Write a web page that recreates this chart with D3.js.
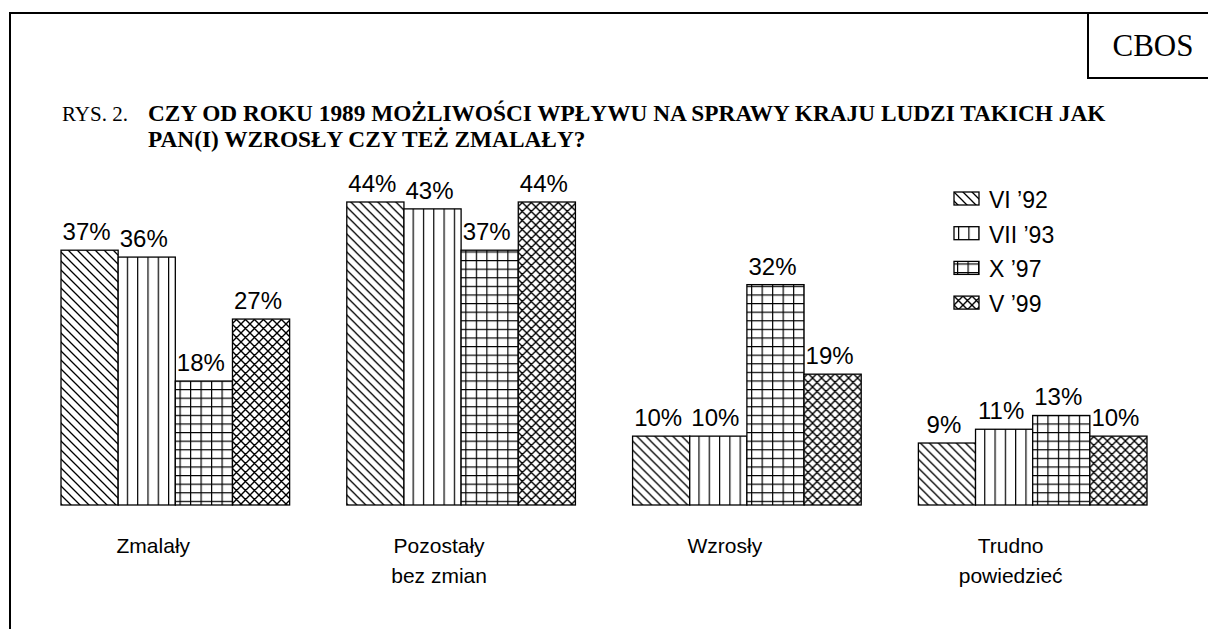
<!DOCTYPE html>
<html><head><meta charset="utf-8">
<script src="https://cdn.jsdelivr.net/npm/d3@7"></script>
<style>
html,body{margin:0;padding:0;background:#fff;overflow:hidden;}
svg{display:block;}
</style></head>
<body>
<svg id="chart" width="1208" height="629"></svg>
<script>
const categories = [["Zmalały"], ["Pozostały", "bez zmian"], ["Wzrosły"], ["Trudno", "powiedzieć"]];
const seriesNames = ["VI \u201992", "VII \u201993", "X \u201997", "V \u201999"];
const vi92  = [37, 44, 10, 9];
const vii93 = [36, 43, 10, 11];
const x97   = [18, 37, 32, 13];
const v99   = [27, 44, 19, 10];
const seriesValues = [vi92, vii93, x97, v99];
const titleLines = ["CZY OD ROKU 1989 MOŻLIWOŚCI WPŁYWU NA SPRAWY KRAJU LUDZI TAKICH JAK", "PAN(I) WZROSŁY CZY TEŻ ZMALAŁY?"];

const svg = d3.select("#chart");
const defs = svg.append("defs");
const patIds = ["p0", "p1", "p2", "p3"];

// pattern 0: diagonal "\" lines
{
  const p = defs.append("pattern").attr("id", "p0").attr("patternUnits", "userSpaceOnUse")
    .attr("width", 9).attr("height", 9);
  p.append("rect").attr("width", 9).attr("height", 9).attr("fill", "#fff");
  p.append("path").attr("d", "M-1,-1 L10,10 M-5,4 L5,14 M4,-5 L14,5")
    .attr("stroke", "#000").attr("stroke-width", 1.3);
}
// pattern 1: vertical lines
{
  const p = defs.append("pattern").attr("id", "p1").attr("patternUnits", "userSpaceOnUse")
    .attr("width", 10.3).attr("height", 10).attr("x", 4);
  p.append("rect").attr("width", 10.3).attr("height", 10).attr("fill", "#fff");
  p.append("path").attr("d", "M0.6,0 V10").attr("stroke", "#000").attr("stroke-width", 1.2);
}
// pattern 2: grid
{
  const p = defs.append("pattern").attr("id", "p2").attr("patternUnits", "userSpaceOnUse")
    .attr("width", 10.5).attr("height", 8.6).attr("x", 3).attr("y", 2);
  p.append("rect").attr("width", 10.5).attr("height", 8.6).attr("fill", "#fff");
  p.append("path").attr("d", "M0.6,0 V8.6 M0,0.6 H10.5").attr("stroke", "#000").attr("stroke-width", 1.2);
}
// pattern 3: diagonal crosshatch
{
  const p = defs.append("pattern").attr("id", "p3").attr("patternUnits", "userSpaceOnUse")
    .attr("width", 9).attr("height", 9);
  p.append("rect").attr("width", 9).attr("height", 9).attr("fill", "#fff");
  p.append("path").attr("d", "M-1,-1 L10,10 M-5,4 L5,14 M4,-5 L14,5 M-1,10 L10,-1 M-5,5 L5,-5 M4,14 L14,4")
    .attr("stroke", "#000").attr("stroke-width", 1.4);
}

// frame
svg.append("path").attr("d", "M10,629 V13 H1210").attr("fill", "none").attr("stroke", "#000").attr("stroke-width", 2);
svg.append("path").attr("d", "M1088,13 V78 H1210").attr("fill", "none").attr("stroke", "#000").attr("stroke-width", 2);
svg.append("text").attr("x", 1153).attr("y", 56).attr("text-anchor", "middle")
  .attr("font-family", "Liberation Serif, Times New Roman, serif").attr("font-size", 31).text("CBOS");

// title
svg.append("text").attr("x", 62).attr("y", 121)
  .attr("font-family", "Liberation Serif, Times New Roman, serif").attr("font-size", 21).text("RYS. 2.");
const titleTexts = titleLines.map((t, i) => svg.append("text").attr("x", 148).attr("y", 121 + i * 26)
    .attr("font-family", "Liberation Serif, Times New Roman, serif").attr("font-weight", "bold")
    .attr("font-size", 20).text(t));
// size the title so its first line spans to the right margin (x = 1106)
const w0 = titleTexts[0].node().getComputedTextLength();
const titleSize = 20 * (1106 - 148) / w0;
titleTexts.forEach(t => t.attr("font-size", titleSize));

// scales
const x0 = d3.scaleBand().domain(d3.range(categories.length)).range([61, 1147]).paddingInner(0.2).paddingOuter(0);
const x1 = d3.scaleBand().domain(d3.range(seriesNames.length)).range([0, x0.bandwidth()]).padding(0);
const y = d3.scaleLinear().domain([0, 44]).range([505, 202]);

const groups = svg.append("g").selectAll("g").data(categories).join("g")
  .attr("transform", (d, i) => `translate(${x0(i)},0)`);

groups.each(function(c, ci) {
  const g = d3.select(this);
  seriesValues.forEach((vals, si) => {
    const v = vals[ci];
    g.append("rect").attr("x", x1(si)).attr("y", y(v)).attr("width", x1.bandwidth()).attr("height", y(0) - y(v))
      .attr("fill", `url(#${patIds[si]})`).attr("stroke", "#000").attr("stroke-width", 1.3);
    g.append("text").attr("x", x1(si) + x1.bandwidth() / 2 - 3).attr("y", y(v) - 10)
      .attr("text-anchor", "middle").attr("font-family", "Liberation Sans, Arial, sans-serif")
      .attr("font-size", 24).text(v + "%");
  });
  c.forEach((line, li) => {
    g.append("text").attr("x", x0.bandwidth() / 2 - 22).attr("y", 553 + li * 30)
      .attr("text-anchor", "middle").attr("font-family", "Liberation Sans, Arial, sans-serif")
      .attr("font-size", 21).text(line);
  });
});

// legend
const legend = svg.append("g").selectAll("g").data(seriesNames).join("g")
  .attr("transform", (d, i) => `translate(954,${192 + i * 34.7})`);
legend.append("rect").attr("width", 25).attr("height", 13)
  .attr("fill", (d, i) => `url(#${patIds[i]})`).attr("stroke", "#000").attr("stroke-width", 1.3);
legend.append("text").attr("x", 35).attr("y", 16).attr("font-family", "Liberation Sans, Arial, sans-serif")
  .attr("font-size", 23).text(d => d);
</script>
</body></html>
